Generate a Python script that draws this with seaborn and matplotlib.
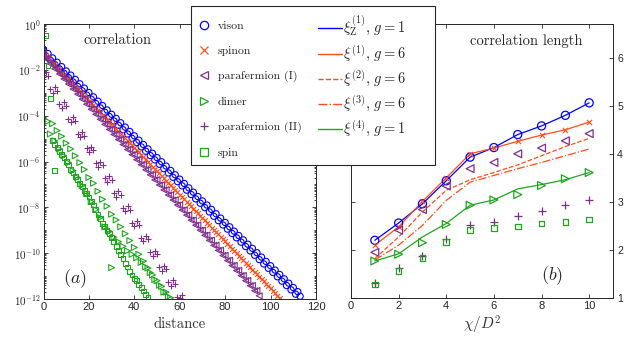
import numpy as np
import matplotlib
matplotlib.use("Agg")
import matplotlib.pyplot as plt
import seaborn as sns
from matplotlib.lines import Line2D
from matplotlib.patches import Rectangle
from matplotlib.ticker import FixedLocator, LogLocator, FuncFormatter, NullFormatter

# ---------------- panel (a): correlation vs distance (log10 values) ----------------
vison_d = np.arange(0, 114)
vison_log = [
    -1.10, -1.39, -1.29, -1.58, -1.48, -1.77, -1.67, -1.96, -1.86, -2.15,
    -2.05, -2.34, -2.23, -2.53, -2.42, -2.72, -2.61, -2.91, -2.80, -3.10,
    -2.99, -3.28, -3.18, -3.47, -3.37, -3.66, -3.56, -3.85, -3.75, -4.04,
    -3.94, -4.23, -4.12, -4.42, -4.31, -4.61, -4.50, -4.80, -4.69, -4.99,
    -4.88, -5.17, -5.07, -5.36, -5.26, -5.55, -5.45, -5.74, -5.64, -5.93,
    -5.83, -6.12, -6.01, -6.31, -6.20, -6.50, -6.39, -6.69, -6.58, -6.88,
    -6.77, -7.06, -6.96, -7.25, -7.15, -7.44, -7.34, -7.63, -7.53, -7.82,
    -7.72, -8.01, -7.90, -8.20, -8.09, -8.39, -8.28, -8.58, -8.47, -8.77,
    -8.66, -8.95, -8.85, -9.14, -9.04, -9.33, -9.23, -9.52, -9.42, -9.71,
    -9.61, -9.90, -9.79, -10.09, -9.98, -10.28, -10.17, -10.47, -10.36, -10.66,
    -10.55, -10.84, -10.74, -11.03, -10.93, -11.22, -11.12, -11.41, -11.31, -11.60,
    -11.50, -11.79, -11.68, -11.88,
]
spinon_d = np.arange(0, 105)
spinon_log = [
    -1.30, -1.40, -1.50, -1.61, -1.71, -1.81, -1.91, -2.02, -2.12, -2.22,
    -2.32, -2.43, -2.53, -2.63, -2.73, -2.84, -2.94, -3.04, -3.14, -3.25,
    -3.35, -3.45, -3.55, -3.66, -3.76, -3.86, -3.96, -4.06, -4.17, -4.27,
    -4.37, -4.47, -4.58, -4.68, -4.78, -4.88, -4.99, -5.09, -5.19, -5.29,
    -5.40, -5.50, -5.60, -5.70, -5.81, -5.91, -6.01, -6.11, -6.22, -6.32,
    -6.42, -6.52, -6.62, -6.73, -6.83, -6.93, -7.03, -7.14, -7.24, -7.34,
    -7.44, -7.55, -7.65, -7.75, -7.85, -7.96, -8.06, -8.16, -8.26, -8.37,
    -8.47, -8.57, -8.67, -8.78, -8.88, -8.98, -9.08, -9.18, -9.29, -9.39,
    -9.49, -9.59, -9.70, -9.80, -9.90, -10.00, -10.11, -10.21, -10.31, -10.41,
    -10.52, -10.62, -10.72, -10.82, -10.93, -11.03, -11.13, -11.23, -11.34, -11.44,
    -11.54, -11.64, -11.74, -11.85, -11.95,
]
paraI_d = np.arange(0, 96)
paraI_log = [
    -1.29, -1.52, -1.51, -1.74, -1.73, -1.96, -1.95, -2.18, -2.17, -2.40,
    -2.39, -2.62, -2.61, -2.84, -2.83, -3.06, -3.05, -3.28, -3.27, -3.50,
    -3.49, -3.72, -3.71, -3.94, -3.93, -4.16, -4.15, -4.38, -4.37, -4.60,
    -4.59, -4.82, -4.81, -5.04, -5.03, -5.26, -5.25, -5.48, -5.47, -5.70,
    -5.69, -5.92, -5.91, -6.14, -6.13, -6.36, -6.35, -6.58, -6.57, -6.80,
    -6.79, -7.02, -7.01, -7.24, -7.23, -7.46, -7.45, -7.68, -7.67, -7.90,
    -7.89, -8.12, -8.11, -8.34, -8.33, -8.56, -8.55, -8.78, -8.77, -9.00,
    -8.99, -9.22, -9.21, -9.44, -9.43, -9.66, -9.65, -9.88, -9.87, -10.10,
    -10.09, -10.32, -10.31, -10.54, -10.53, -10.76, -10.75, -10.98, -10.97, -11.20,
    -11.19, -11.42, -11.41, -11.64, -11.63, -11.86,
]
dimer_d = np.append(np.arange(2, 57), 30)
dimer_log = [
    -4.25, -4.80, -4.35, -5.10, -4.65, -5.45, -4.90, -5.75, -5.20, -6.05,
    -5.45, -6.40, -5.75, -6.70, -6.05, -7.05, -6.35, -7.40, -6.70, -7.75,
    -6.95, -8.10, -7.30, -8.45, -7.65, -8.85, -7.95, -9.05, -8.30, -9.30,
    -8.55, -9.50, -8.85, -9.70, -9.15, -9.90, -9.45, -10.05, -9.75, -10.20,
    -10.05, -10.40, -10.35, -10.60, -10.65, -10.85, -10.95, -11.15, -11.20, -11.40,
    -11.45, -11.70, -11.70, -11.90, -11.95,
    -10.63,
]
paraII_d = np.arange(0, 62)
paraII_log = [
    -1.25,
    -2.11, -2.27, -2.84, -3.00, -2.76, -2.92, -3.48, -3.65, -3.41, -3.57,
    -4.13, -4.29, -4.06, -4.22, -4.78, -4.94, -4.70, -4.87, -5.43, -5.59,
    -5.35, -5.51, -6.08, -6.24, -6.00, -6.16, -6.72, -6.89, -6.65, -6.81,
    -7.37, -7.53, -7.30, -7.46, -8.02, -8.18, -7.94, -8.11, -8.67, -8.83,
    -8.59, -8.75, -9.32, -9.48, -9.24, -9.40, -9.96, -10.13, -9.89, -10.05,
    -10.61, -10.77, -10.54, -10.70, -11.26, -11.42, -11.18, -11.35, -11.91, -11.95,
    -11.83,
]
spin_d = np.concatenate([[1, 2, 3, 5], np.arange(4, 47)])
spin_log = [
    -0.50, -1.80, -3.25, -6.39,
    -5.10, -5.25, -5.40, -5.55, -5.70, -5.85, -6.00, -6.15, -6.35, -6.50,
    -6.65, -6.80, -6.95, -7.10, -7.25, -7.40, -7.55, -7.75, -7.90, -8.10,
    -8.30, -8.50, -8.70, -8.85, -9.00, -9.15, -9.30, -9.50, -9.70, -9.90,
    -10.05, -10.25, -10.45, -10.60, -10.80, -10.95, -11.10, -11.20, -11.35, -11.50,
    -11.65, -11.80, -11.95,
]

# ---------------- panel (b): correlation length vs chi/D^2 ----------------
chi = [1, 2, 3, 4, 5, 6, 7, 8, 9, 10]
vison_len = [2.20, 2.56, 2.96, 3.44, 3.93, 4.13, 4.40, 4.58, 4.80, 5.06]
spinon_len = [2.10, 2.48, 3.01, 3.50, 4.00, 4.12, 4.26, 4.39, 4.50, 4.66]
paraI_len = [1.95, 2.41, 2.84, 3.33, 3.69, 3.82, 4.00, 4.12, 4.27, 4.42]
dimer_len = [1.77, 1.91, 2.15, 2.53, 2.93, 3.04, 3.15, 3.34, 3.48, 3.61]
paraII_len = [1.32, 1.63, 1.87, 2.22, 2.51, 2.59, 2.70, 2.82, 2.93, 3.04]
spin_len = [1.28, 1.56, 1.83, 2.17, 2.41, 2.46, 2.49, 2.55, 2.58, 2.63]
xiZ1_g1 = [2.20, 2.56, 2.96, 3.44, 3.93, 4.13, 4.40, 4.58, 4.80, 5.06]
xi1_g6 = [2.10, 2.48, 3.01, 3.50, 4.00, 4.12, 4.26, 4.39, 4.50, 4.66]
xi2_g6 = [1.82, 2.27, 2.79, 3.24, 3.46, 3.61, 3.77, 3.96, 4.15, 4.32]
xi3_g6 = [1.79, 2.10, 2.51, 3.03, 3.41, 3.55, 3.69, 3.82, 3.96, 4.10]
xi4_g1 = [1.77, 1.92, 2.27, 2.55, 2.93, 3.04, 3.27, 3.36, 3.46, 3.61]

marker_labels = ["vison", "spinon", "parafermion (I)", "dimer", "parafermion (II)", "spin"]
line_labels = [r"$\xi_{\mathrm{Z}}^{(1)},\, g=1$", r"$\xi^{(1)},\, g=6$",
               r"$\xi^{(2)},\, g=6$", r"$\xi^{(3)},\, g=6$", r"$\xi^{(4)},\, g=1$"]

sns.set_theme(style="ticks")
plt.rcParams["font.family"] = ["Liberation Sans", "DejaVu Sans"]
plt.rcParams["mathtext.fontset"] = "cm"

BLUE = "#0000ff"
ORANGE = "#ff4d1a"
PURPLE = "#7e2f8e"
GREEN = "#1fa51f"
AXC = "#262626"
SERIF = "cmr10"

fig = plt.figure(figsize=(6.26, 3.41), dpi=100)
ax1 = fig.add_axes([43.5 / 626, 1 - 299 / 341, 272.5 / 626, 275 / 341])
ax2 = fig.add_axes([351 / 626, 1 - 298 / 341, 262 / 626, 274 / 341])

ax1.set_yscale("log")


def open_style(marker, color, s, lw=0.8):
    return dict(marker=marker, s=s, color=color, facecolor="none", edgecolor=color, linewidth=lw)


def line_style(marker, color, s, lw=0.8):
    return dict(marker=marker, s=s, color=color, edgecolor=color, linewidth=lw)


series_a = [
    (vison_d, vison_log, open_style("o", BLUE, 20)),
    (spinon_d, spinon_log, line_style("x", ORANGE, 12)),
    (paraI_d, paraI_log, open_style("<", PURPLE, 18)),
    (dimer_d, dimer_log, open_style(">", GREEN, 18)),
    (paraII_d, paraII_log, line_style("+", PURPLE, 18)),
    (spin_d, spin_log, open_style("s", GREEN, 12)),
]
for d, lv, st in series_a:
    sns.scatterplot(x=d, y=10.0 ** np.array(lv), ax=ax1, legend=False, **st)

ax1.set_xlim(0, 120)
ax1.set_ylim(1e-12, 1e0)
ax1.xaxis.set_major_locator(FixedLocator([0, 20, 40, 60, 80, 100, 120]))
ax1.yaxis.set_major_locator(FixedLocator([10.0 ** k for k in range(-12, 1, 2)]))
ax1.yaxis.set_major_formatter(FuncFormatter(lambda v, p: r"$\mathsf{10^{%d}}$" % round(np.log10(v))))
ax1.yaxis.set_minor_locator(LogLocator(base=10, subs=np.arange(1, 10), numticks=60))
ax1.yaxis.set_minor_formatter(NullFormatter())
ax1.text(32.7, 10 ** -0.69, "correlation", family=SERIF, fontsize=10.5, ha="center", va="center")
ax1.text(14, 10 ** -11.1, r"$(a)$", fontsize=13, ha="center", va="center")
ax1.set_xlabel("distance", family=SERIF, fontsize=10.5, labelpad=4)

# panel (b)
sns.lineplot(x=chi, y=xiZ1_g1, ax=ax2, color=BLUE, linewidth=0.9)
sns.lineplot(x=chi, y=xi1_g6, ax=ax2, color=ORANGE, linewidth=0.9)
sns.lineplot(x=chi, y=xi2_g6, ax=ax2, color=ORANGE, linewidth=0.9, linestyle="--")
sns.lineplot(x=chi, y=xi3_g6, ax=ax2, color=ORANGE, linewidth=0.9, linestyle="-.")
sns.lineplot(x=chi, y=xi4_g1, ax=ax2, color=GREEN, linewidth=0.9)

series_b = [
    (vison_len, open_style("o", BLUE, 34, 0.9)),
    (spinon_len, line_style("x", ORANGE, 14)),
    (paraI_len, open_style("<", PURPLE, 32, 0.9)),
    (dimer_len, open_style(">", GREEN, 32, 0.9)),
    (paraII_len, line_style("+", PURPLE, 28, 0.9)),
    (spin_len, open_style("s", GREEN, 16, 0.9)),
]
for vals, st in series_b:
    sns.scatterplot(x=chi, y=vals, ax=ax2, legend=False, zorder=3, **st)

ax2.set_xlim(0, 11)
ax2.set_ylim(1, 6.7)
ax2.set_xticks([0, 2, 4, 6, 8, 10])
ax2.set_yticks([1, 2, 3, 4, 5, 6])
ax2.text(7.35, 6.34, "correlation length", family=SERIF, fontsize=10.5, ha="center", va="center")
ax2.text(8.43, 1.46, r"$(b)$", fontsize=13, ha="center", va="center")
ax2.set_xlabel(r"$\chi/D^2$", fontsize=11, labelpad=2)
ax2.set_ylabel("")

for ax in (ax1, ax2):
    ax.tick_params(which="both", direction="in", top=True, right=True, left=True,
                   bottom=True, labelsize=8, colors=AXC, width=0.6, pad=2)
    ax.tick_params(which="major", length=3)
    ax.tick_params(which="minor", length=1.6)
    for sp in ax.spines.values():
        sp.set_color(AXC)
        sp.set_linewidth(0.7)
    ax.xaxis.label.set_color("#303030")
ax2.tick_params(axis="y", labelleft=False, labelright=True, pad=3, labelsize=7.5)

# legend: frame + two columns
fig.add_artist(Rectangle((190.7 / 626, 1 - 165 / 341), (435 - 190.7) / 626, 159 / 341,
                         transform=fig.transFigure, facecolor="white", edgecolor=AXC,
                         linewidth=0.8, zorder=10))

mk = [("o", BLUE, "none"), ("x", ORANGE, ORANGE), ("<", PURPLE, "none"),
      (">", GREEN, "none"), ("+", PURPLE, PURPLE), ("s", GREEN, "none")]
h_left = [Line2D([], [], ls="none", marker=m, mfc=f, mec=c, ms=6, mew=0.9) for m, c, f in mk]
leg1 = fig.legend(h_left, marker_labels, loc="upper left", bbox_to_anchor=(197 / 626, 1 - 21 / 341),
                  frameon=False, prop={"family": SERIF, "size": 8.5}, handlelength=1.2,
                  handletextpad=0.58, borderpad=0, borderaxespad=0, labelspacing=1.24)
leg1.set_zorder(11)

h_right = [Line2D([], [], color=BLUE, lw=1.0), Line2D([], [], color=ORANGE, lw=1.0),
           Line2D([], [], color=ORANGE, lw=1.0, ls="--"), Line2D([], [], color=ORANGE, lw=1.0, ls="-."),
           Line2D([], [], color=GREEN, lw=1.0)]
leg2 = fig.legend(h_right, line_labels, loc="upper left", bbox_to_anchor=(318 / 626, 1 - 14 / 341),
                  frameon=False, prop={"size": 10.5}, handlelength=1.64, handletextpad=0.1,
                  borderpad=0, borderaxespad=0, labelspacing=0.35)
leg2.set_zorder(11)

fig.savefig("out.png", dpi=100)
